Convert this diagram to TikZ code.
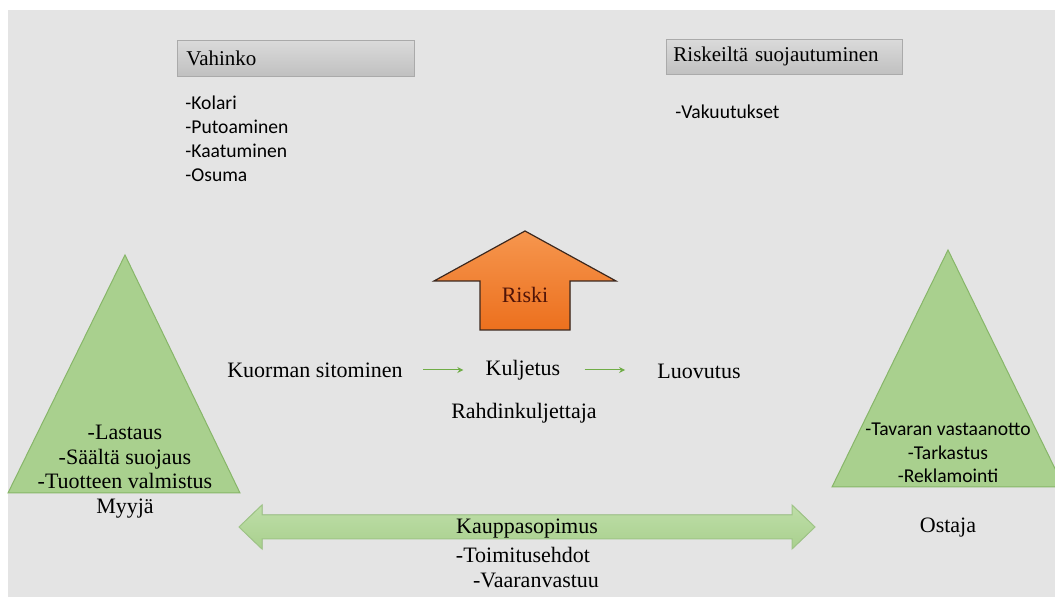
\documentclass[tikz,border=0pt]{standalone}
\usepackage{fontspec}
\setmainfont{Liberation Serif}
\newfontfamily\listfont{Carlito}
\usepackage{xcolor}
\definecolor{bggrey}{RGB}{228,228,228}
\definecolor{boxtop}{RGB}{218,218,218}
\definecolor{boxbot}{RGB}{192,192,192}
\definecolor{boxline}{RGB}{170,170,170}
\definecolor{leaf}{RGB}{169,208,142}
\definecolor{leaflight}{RGB}{190,222,168}
\definecolor{leafline}{RGB}{135,182,105}
\definecolor{leafdark}{RGB}{112,173,71}
\definecolor{riskorange}{RGB}{236,112,30}
\definecolor{risklight}{RGB}{246,150,78}
\definecolor{riskline}{RGB}{60,40,30}
\definecolor{risktext}{RGB}{80,20,8}
\usetikzlibrary{arrows.meta,positioning}

\begin{document}
\begin{tikzpicture}[
  x=0.5pt, y=-0.5pt,
  titlebox/.style={draw=boxline, top color=boxtop, bottom color=boxbot, anchor=north west, align=left, font=\fontsize{10.5}{12}\selectfont, inner ysep=0pt, minimum height=18pt},
  listtxt/.style={anchor=north west, align=left, inner sep=0pt, font=\listfont\fontsize{9.8}{12}\selectfont},
  tritxt/.style={align=center, inner sep=0pt, font=\fontsize{11}{12.25}\selectfont},
  label/.style={inner sep=3pt, font=\fontsize{11}{13}\selectfont},
  tri/.style={fill=leaf, draw=leafline, line width=0.5pt},
  flow/.style={-{Stealth[length=3pt,width=3pt]}, draw=leafdark, line width=0.5pt}
]
\useasboundingbox (0,0) rectangle (1055,597);
\fill[bggrey] (8,10) rectangle (1055,597);

% top boxes
\node[titlebox, inner xsep=4.5pt, text width=109.5pt] (vahinko) at (177,40) {Vahinko};
\node[listtxt] (vahlist) at (185,95) {-Kolari\\-Putoaminen\\-Kaatuminen\\-Osuma};
\node[titlebox, inner xsep=3.5pt, text width=111pt, minimum height=17.5pt] (suoja) at (666,39) {Riskeiltä suojautuminen};
\node[listtxt] (suojalist) at (675,104) {-Vakuutukset};

% seller / buyer
\draw[tri] (8,493) -- (125,255) -- (240,493) -- cycle;
\begin{scope}
  \clip (8,10) rectangle (1055,597);
  \draw[tri] (832,487) -- (948,250) -- (1064,487) -- cycle;
\end{scope}
\node[tritxt] (myyjatxt) at (125,457) {-Lastaus\\-Säältä suojaus\\-Tuotteen valmistus};
\node[tritxt, font=\listfont\fontsize{9.8}{11.8}\selectfont] (ostajatxt) at (948,453) {-Tavaran vastaanotto\\-Tarkastus\\-Reklamointi};
\node[label] (myyja) at (125,509) {Myyjä};
\node[label] (ostaja) at (948,528) {Ostaja};

% risk arrow
\filldraw[top color=risklight, bottom color=riskorange, draw=riskline, line width=0.6pt]
  (525,231) -- (616,281) -- (570,281) -- (570,330) -- (480,330) -- (480,281) -- (434,281) -- cycle;
\node[label, text=risktext] (riski) at (525,295) {Riski};

% transport chain
\node[label] (sitominen) at (315,370) {Kuorman sitominen};
\node[label] (kuljetus) at (523,370) {Kuljetus};
\node[label] (luovutus) at (699,371) {Luovutus};
\node[label] (rahti) at (524,413) {Rahdinkuljettaja};
\draw[flow, shorten <=7pt, shorten >=8pt] (sitominen.east) -- (kuljetus.west);
\draw[flow, shorten <=9pt, shorten >=13pt] (kuljetus.east) -- (kuljetus.east -| luovutus.west);

% contract arrow
\filldraw[top color=leaflight, bottom color=leaf, draw=leafline!80, line width=0.5pt]
  (239,527) -- (262,505) -- (262,515) -- (792,515) -- (792,505) -- (815,527)
  -- (792,549) -- (792,539) -- (262,539) -- (262,549) -- cycle;
\node[label] (kauppa) at (527,529) {Kauppasopimus};
\node[label] (ehdot) at (523,555) {-Toimitusehdot};
\node[label] (vaara) at (536,580) {-Vaaranvastuu};
\end{tikzpicture}
\end{document}
